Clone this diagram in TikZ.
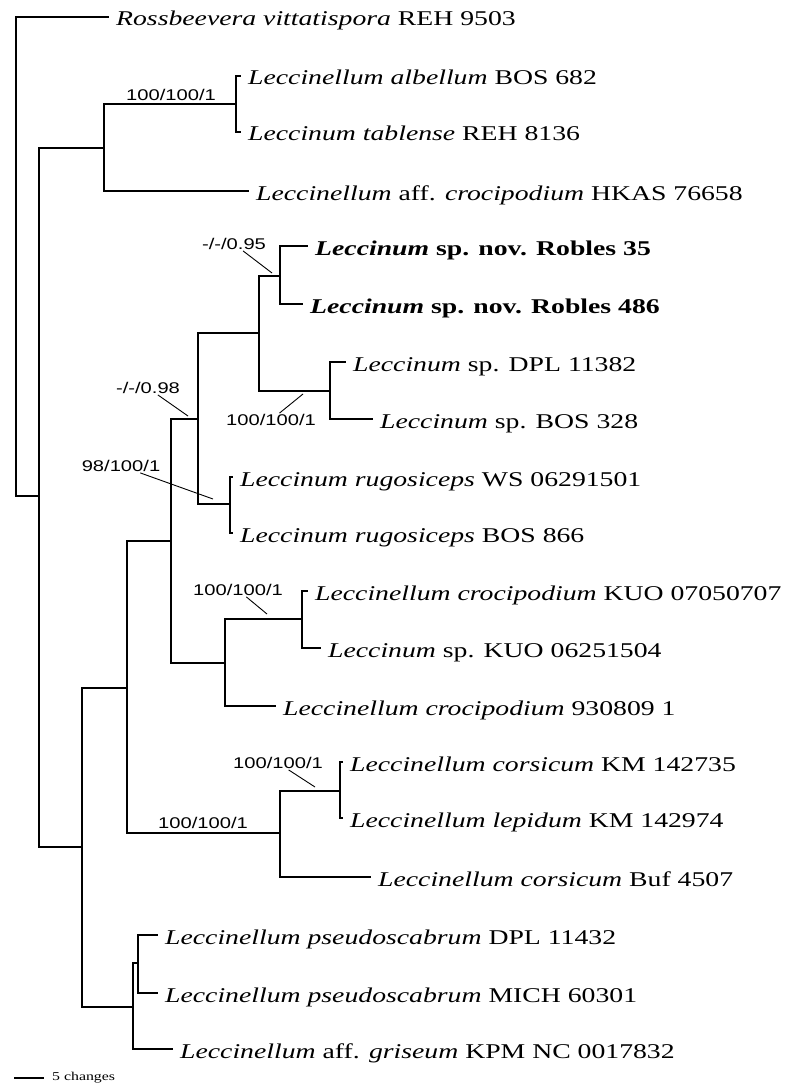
\documentclass[tikz,border=0pt]{standalone}
\usepackage{fontspec}
\setmainfont{Liberation Serif}[FakeStretch=1.32]
\newfontfamily\supportfont{Liberation Sans}[FakeStretch=1.3]
\usetikzlibrary{calc}
\tikzset{
  taxon/.style={
    anchor=west, inner xsep=8pt, inner ysep=0pt,
    font=\fontsize{21}{24}\selectfont,
    text height=20pt, text depth=2pt
  },
  support/.style={inner sep=1pt, font=\supportfont\fontsize{15.5}{17}\selectfont},
  branch/.style={line width=1.2pt, line cap=rect},
  leader/.style={line width=0.9pt}
}

\begin{document}
\begin{tikzpicture}[x=1pt, y=-1pt]
    \useasboundingbox (0,0) rectangle (794,1089);

    % Taxa
    \node[taxon] (t1) at (108,17) {\textit{Rossbeevera vittatispora} REH 9503};
    \node[taxon] (t2) at (240,76) {\textit{Leccinellum albellum} BOS 682};
    \node[taxon] (t3) at (240,132) {\textit{Leccinum tablense} REH 8136};
    \node[taxon] (t4) at (248,191) {\textit{Leccinellum} aff. \textit{crocipodium} HKAS 76658};
    \node[taxon] (t5) at (307,246) {\textbf{\textit{Leccinum} sp. nov. Robles 35}};
    \node[taxon] (t6) at (302,304) {\textbf{\textit{Leccinum} sp. nov. Robles 486}};
    \node[taxon] (t7) at (345,362) {\textit{Leccinum} sp. DPL 11382};
    \node[taxon] (t8) at (372,419) {\textit{Leccinum} sp. BOS 328};
    \node[taxon] (t9) at (232,477) {\textit{Leccinum rugosiceps} WS 06291501};
    \node[taxon] (t10) at (232,533) {\textit{Leccinum rugosiceps} BOS 866};
    \node[taxon] (t11) at (307,591) {\textit{Leccinellum crocipodium} KUO 07050707};
    \node[taxon] (t12) at (320,648) {\textit{Leccinum} sp. KUO 06251504};
    \node[taxon] (t13) at (275,706) {\textit{Leccinellum crocipodium} 930809 1};
    \node[taxon] (t14) at (342,762) {\textit{Leccinellum corsicum} KM 142735};
    \node[taxon] (t15) at (342,818) {\textit{Leccinellum lepidum} KM 142974};
    \node[taxon] (t16) at (370,877) {\textit{Leccinellum corsicum} Buf 4507};
    \node[taxon] (t17) at (157,935) {\textit{Leccinellum pseudoscabrum} DPL 11432};
    \node[taxon] (t18) at (157,993) {\textit{Leccinellum pseudoscabrum} MICH 60301};
    \node[taxon] (t19) at (172,1049) {\textit{Leccinellum} aff. \textit{griseum} KPM NC 0017832};

    % Internal nodes
    \coordinate (root) at (16,256);
    \coordinate (n1) at (39,496);
    \coordinate (nA) at (104,148);
    \coordinate (nA1) at (236,104);
    \coordinate (nB) at (82,847);
    \coordinate (nC) at (127,688);
    \coordinate (nD) at (171,541);
    \coordinate (nE) at (198,419);
    \coordinate (nF) at (259,333);
    \coordinate (nF1) at (280,276);
    \coordinate (nF2) at (330,391);
    \coordinate (nR) at (230,504);
    \coordinate (nH) at (225,663);
    \coordinate (nH1) at (302,619);
    \coordinate (nK) at (280,833);
    \coordinate (nK1) at (340,791);
    \coordinate (nP) at (133,1007);
    \coordinate (nP1) at (138,963);

    % Branches
    \draw[branch] (t1.west) -| (root) |- (n1);
    \draw[branch] (nA) -| (n1) |- (nB);
    \draw[branch] (nA1) -| (nA) |- (t4.west);
    \draw[branch] (t2.west) -| (nA1) |- (t3.west);
    \draw[branch] (nC) -| (nB) |- (nP);
    \draw[branch] (nD) -| (nC) |- (nK);
    \draw[branch] (nE) -| (nD) |- (nH);
    \draw[branch] (nF) -| (nE) |- (nR);
    \draw[branch] (nF1) -| (nF) |- (nF2);
    \draw[branch] (t5.west) -| (nF1) |- (t6.west);
    \draw[branch] (t7.west) -| (nF2) |- (t8.west);
    \draw[branch] (t9.west) -| (nR) |- (t10.west);
    \draw[branch] (nH1) -| (nH) |- (t13.west);
    \draw[branch] (t11.west) -| (nH1) |- (t12.west);
    \draw[branch] (nK1) -| (nK) |- (t16.west);
    \draw[branch] (t14.west) -| (nK1) |- (t15.west);
    \draw[branch] (nP1) -| (nP) |- (t19.west);
    \draw[branch] (t17.west) -| (nP1) |- (t18.west);

    % Support values
    \node[support] (sA1) at (171,95) {100/100/1};
    \node[support] (sF1) at (234,244) {-/-/0.95};
    \node[support] (sE) at (148,388) {-/-/0.98};
    \node[support] (sF2) at (271,420) {100/100/1};
    \node[support] (sR) at (121,466) {98/100/1};
    \node[support] (sH1) at (238,590) {100/100/1};
    \node[support] (sK1) at (278,763) {100/100/1};
    \node[support] (sK) at (203,823) {100/100/1};

    % Leaders to branches
    \coordinate (pF1) at (272,273);
    \coordinate (pE) at (188,416);
    \coordinate (pF2) at (303,394);
    \coordinate (pR) at (213,499);
    \coordinate (pH1) at (267,614);
    \coordinate (pK1) at (315,787);
    \draw[leader] (sF1) -- (pF1);
    \draw[leader] (sE) -- (pE);
    \draw[leader] (sF2) -- (pF2);
    \draw[leader] (sR) -- (pR);
    \draw[leader] (sH1) -- (pH1);
    \draw[leader] (sK1) -- (pK1);

    % Scale bar
    \coordinate (bar1) at (15,1078);
    \coordinate (bar2) at (43,1078);
    \draw[branch] (bar1) -- (bar2);
    \node[anchor=west, inner sep=0pt, font=\fontsize{12}{14}\selectfont] (barlabel) at (52,1078) {5 changes};
\end{tikzpicture}
\end{document}
